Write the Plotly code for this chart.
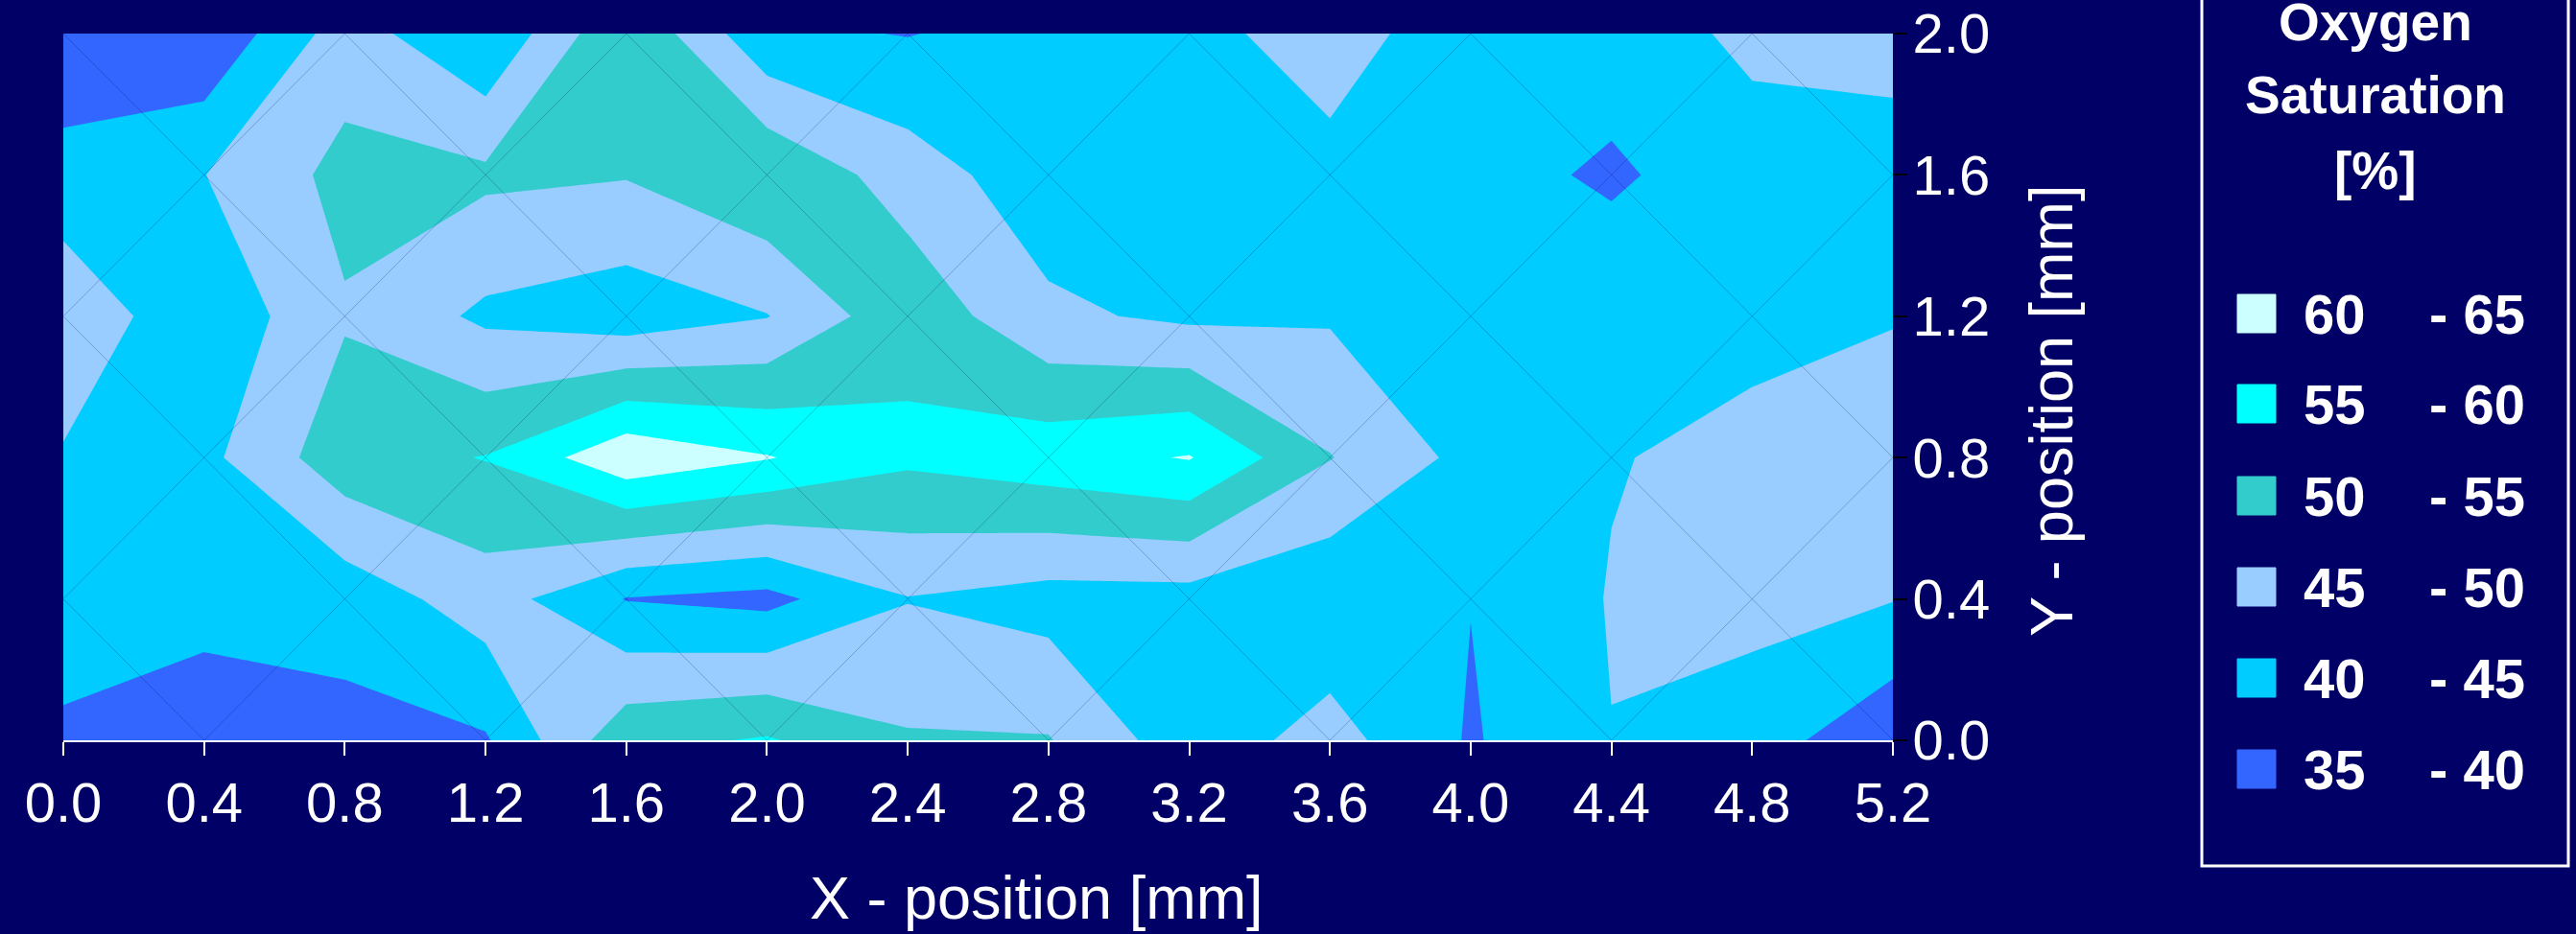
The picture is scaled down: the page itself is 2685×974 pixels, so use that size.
import plotly.graph_objects as go

# ---------------- data ----------------
x_mm = [0.0, 0.4, 0.8, 1.2, 1.6, 2.0, 2.4, 2.8, 3.2, 3.6, 4.0, 4.4, 4.8, 5.2]
y_mm = [0.0, 0.4, 0.8, 1.2, 1.6, 2.0]

sat_y00 = [39.0, 35.0, 38.5, 39.5, 53.5, 55.5, 50.5, 50.3, 42.0, 47.0, 39.5, 44.9, 42.5, 36.0]
sat_y04 = [43.0, 43.0, 42.0, 47.5, 39.8, 38.5, 44.8, 43.0, 43.0, 41.0, 40.1, 45.3, 46.5, 45.2]
sat_y08 = [44.5, 43.7, 53.0, 55.2, 63.7, 60.3, 56.0, 58.0, 60.3, 50.2, 43.5, 44.7, 46.5, 47.0]
sat_y12 = [49.0, 41.0, 49.5, 44.0, 42.0, 44.8, 53.5, 46.0, 44.0, 44.5, 44.0, 43.5, 43.5, 44.8]
sat_y16 = [41.5, 44.9, 51.5, 51.0, 50.3, 54.5, 47.5, 42.0, 44.5, 43.0, 42.0, 39.2, 43.0, 42.0]
sat_y20 = [37.0, 35.5, 47.5, 40.2, 54.8, 41.0, 39.8, 42.0, 43.0, 48.0, 41.0, 42.5, 46.0, 47.5]

levels = [35, 40, 45, 50, 55, 60, 65]
band_colors = ['#3366FF', '#00CCFF', '#99CCFF', '#33CCCC', '#00FFFF', '#CCFFFF']

x_ticks = [0.0, 0.4, 0.8, 1.2, 1.6, 2.0, 2.4, 2.8, 3.2, 3.6, 4.0, 4.4, 4.8, 5.2]
y_ticks = [0.0, 0.4, 0.8, 1.2, 1.6, 2.0]

x_title = "X - position [mm]"
y_title = "Y - position [mm]"
legend_title = ["Oxygen", "Saturation", "[%]"]

# ---------------- figure geometry ----------------
W, H = 2685, 974
L, R, T, B = 66, 1973, 35, 772
BG = '#000066'
FONT = "Arial, 'Liberation Sans', sans-serif"


def px(xp):
    return (xp - L) / (R - L)


def py(yp):
    return (B - yp) / (B - T)


z = [sat_y00, sat_y04, sat_y08, sat_y12, sat_y16, sat_y20]

# stepped colorscale matched to plotly's contour fill colour mapping
step = levels[1] - levels[0]
n = len(levels)
lo = levels[0] - step / 2
hi = levels[0] + (n - 0.5) * step


def cpos(v):
    return (v - lo) / (hi - lo)


all_colors = [band_colors[0]] + band_colors + [band_colors[-1]]
bounds = [0.0] + [cpos(l) for l in levels] + [1.0]
colorscale = []
for k, c in enumerate(all_colors):
    colorscale.append([bounds[k], c])
    colorscale.append([bounds[k + 1], c])

fig = go.Figure()
fig.add_trace(go.Contour(
    x=x_mm, y=y_mm, z=z,
    contours=dict(start=levels[0], end=levels[-1], size=step,
                  coloring='fill', showlines=False),
    line=dict(width=0, smoothing=0),
    colorscale=colorscale, showscale=False, hoverinfo='skip'))

# faint triangulation diagonals of the data grid
lx, ly = [], []
for j in range(len(y_mm) - 1):
    for i in range(len(x_mm) - 1):
        if (i + j) % 2 == 0:
            lx += [x_mm[i], x_mm[i + 1], None]
            ly += [y_mm[j + 1], y_mm[j], None]
        else:
            lx += [x_mm[i], x_mm[i + 1], None]
            ly += [y_mm[j], y_mm[j + 1], None]
fig.add_trace(go.Scatter(x=lx, y=ly, mode='lines',
                         line=dict(color='rgba(0,0,90,0.24)', width=1),
                         hoverinfo='skip', showlegend=False))

fig.update_layout(
    width=W, height=H,
    margin=dict(l=L, r=W - R, t=T, b=H - B, pad=0, autoexpand=False),
    paper_bgcolor=BG, plot_bgcolor=BG, showlegend=False,
    font=dict(family=FONT, color='white'),
    xaxis=dict(range=[x_ticks[0], x_ticks[-1]], tickvals=x_ticks,
               ticktext=[f"{v:.1f}" for v in x_ticks],
               ticks='outside', ticklen=14, tickwidth=2, tickcolor='white',
               showline=True, linecolor='white', linewidth=2, mirror=False,
               showgrid=False, zeroline=False,
               tickfont=dict(size=58, color='white', family=FONT),
               ticklabelstandoff=-1),
    yaxis=dict(range=[y_ticks[0], y_ticks[-1]], tickvals=y_ticks,
               ticktext=[f"{v:.1f}" for v in y_ticks], side='right',
               ticks='outside', ticklen=14, tickwidth=2, tickcolor='black',
               showline=False, showgrid=False, zeroline=False,
               tickfont=dict(size=58, color='white', family=FONT),
               ticklabelstandoff=-6),
)

ann = []
ann.append(dict(text=x_title, x=px(1080), y=py(936), xref='paper', yref='paper',
                showarrow=False, xanchor='center', yanchor='middle',
                font=dict(size=63, color='white', family=FONT)))
ann.append(dict(text=y_title, x=px(2138), y=py(428), xref='paper', yref='paper',
                showarrow=False, xanchor='center', yanchor='middle', textangle=-90,
                font=dict(size=63, color='white', family=FONT)))
title_y = [23, 99, 178]
for k, t in enumerate(legend_title):
    ann.append(dict(text=f"<b>{t}</b>", x=px(2476), y=py(title_y[k]),
                    xref='paper', yref='paper', showarrow=False,
                    xanchor='center', yanchor='middle',
                    font=dict(size=55, color='white', family=FONT)))

shapes = [dict(type='rect', xref='paper', yref='paper',
               x0=px(2295), x1=px(2677), y0=py(903), y1=py(-20),
               line=dict(color='white', width=3), fillcolor='rgba(0,0,0,0)')]

row_y = [327, 421, 517, 612, 707, 802]
for r in range(len(band_colors)):
    b = len(band_colors) - 1 - r
    yc = row_y[r]
    shapes.append(dict(type='rect', xref='paper', yref='paper',
                       x0=px(2332), x1=px(2372), y0=py(yc + 20), y1=py(yc - 20),
                       line=dict(color=band_colors[b], width=1),
                       fillcolor=band_colors[b]))
    ann.append(dict(text=f"<b>{levels[b]}</b>", x=px(2399), y=py(yc),
                    xref='paper', yref='paper', showarrow=False,
                    xanchor='left', yanchor='middle',
                    font=dict(size=58, color='white', family=FONT)))
    ann.append(dict(text=f"<b>- {levels[b + 1]}</b>", x=px(2530), y=py(yc),
                    xref='paper', yref='paper', showarrow=False,
                    xanchor='left', yanchor='middle',
                    font=dict(size=58, color='white', family=FONT)))

fig.update_layout(annotations=ann, shapes=shapes)

fig.write_html("out.html", config={'displayModeBar': False},
               post_script="document.body.style.margin='0';document.body.style.overflow='hidden';")
